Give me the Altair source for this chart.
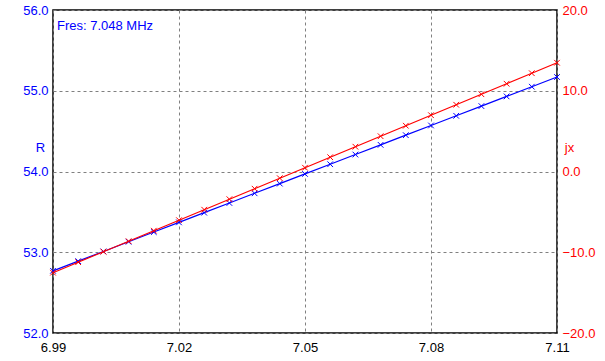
import altair as alt
import pandas as pd

freq = [6.990, 6.996, 7.002, 7.008, 7.014, 7.020, 7.026, 7.032, 7.038, 7.044, 7.050,
        7.056, 7.062, 7.068, 7.074, 7.080, 7.086, 7.092, 7.098, 7.104, 7.110]
r_vals = [52.77, 52.89, 53.01, 53.13, 53.25, 53.37, 53.49, 53.61, 53.73, 53.85, 53.97,
          54.09, 54.21, 54.33, 54.45, 54.57, 54.69, 54.81, 54.93, 55.05, 55.17]
jx_vals = [-12.53, -11.23, -9.93, -8.63, -7.33, -6.03, -4.73, -3.43, -2.13, -0.83, 0.47,
           1.77, 3.07, 4.37, 5.67, 6.97, 8.27, 9.57, 10.87, 12.17, 13.47]
x_ticks = [6.99, 7.02, 7.05, 7.08, 7.11]
r_ticks = [52, 53, 54, 55, 56]
jx_ticks = [-20, -10, 0, 10, 20]
annotation = "Fres: 7.048 MHz"

df = pd.DataFrame({"f": freq, "R": r_vals, "jx": jx_vals})

FONT = "Liberation Sans"
BLUE = "#0000FF"
RED = "#FF0000"
XSHAPE = "M-1,-1L1,1M-1,1L1,-1"

xenc = alt.X("f:Q", scale=alt.Scale(domain=[6.99, 7.11], nice=False, zero=False),
             axis=alt.Axis(values=x_ticks, format=".2f", title=None, ticks=False,
                           labelPadding=8, labelColor="black", labelFontSize=13,
                           labelFont=FONT, grid=True, gridDash=[3, 3], gridColor="#808080",
                           domain=False, labelFlush=False))

yR = alt.Y("R:Q", scale=alt.Scale(domain=[52, 56], nice=False, zero=False),
           axis=alt.Axis(values=r_ticks, format=".1f", title="R", titleAngle=0,
                         titleX=-13, titleY=137, titleAlign="center", titleBaseline="middle",
                         titleColor=BLUE, titleFont=FONT, titleFontSize=13, titleFontWeight="normal",
                         labelColor=BLUE, labelFont=FONT, labelFontSize=13, ticks=False,
                         labelPadding=5, grid=True, gridDash=[3, 3], gridColor="#808080",
                         domain=False))

yJ = alt.Y("jx:Q", scale=alt.Scale(domain=[-20, 20], nice=False, zero=False),
           axis=alt.Axis(orient="right", values=jx_ticks, format=".1f", title="jx", titleAngle=0,
                         titleX=12, titleY=137, titleAlign="center", titleBaseline="middle",
                         titleColor=RED, titleFont=FONT, titleFontSize=13, titleFontWeight="normal",
                         labelColor=RED, labelFont=FONT, labelFontSize=13, ticks=False,
                         labelPadding=5, grid=False, domain=False))

base = alt.Chart(df)

r_line = base.mark_line(color=BLUE, strokeWidth=1.2).encode(x=xenc, y=yR)
r_pts = base.mark_point(shape=XSHAPE, size=32, color=BLUE, filled=False, strokeWidth=1,
                        opacity=1).encode(x=xenc, y=yR)
j_line = base.mark_line(color=RED, strokeWidth=1.2).encode(x=xenc, y=yJ)
j_pts = base.mark_point(shape=XSHAPE, size=32, color=RED, filled=False, strokeWidth=1,
                        opacity=1).encode(x=xenc, y=yJ)

txt = alt.Chart(pd.DataFrame({"t": [annotation]})).mark_text(
    align="left", baseline="middle", color=BLUE, font=FONT, fontSize=13
).encode(x=alt.value(4), y=alt.value(16), text="t:N")

left = alt.layer(r_line, r_pts)
right = alt.layer(j_line, j_pts)

chart = alt.layer(left, right, txt).resolve_scale(y="independent").properties(
    width=504, height=323,
    autosize=alt.AutoSizeParams(type="none"),
    padding={"left": 53, "top": 10, "right": 48, "bottom": 28},
    background="white",
).configure_view(stroke="black", strokeWidth=1.5)

chart.save("out.html", embed_options={"renderer": "svg", "actions": False})
